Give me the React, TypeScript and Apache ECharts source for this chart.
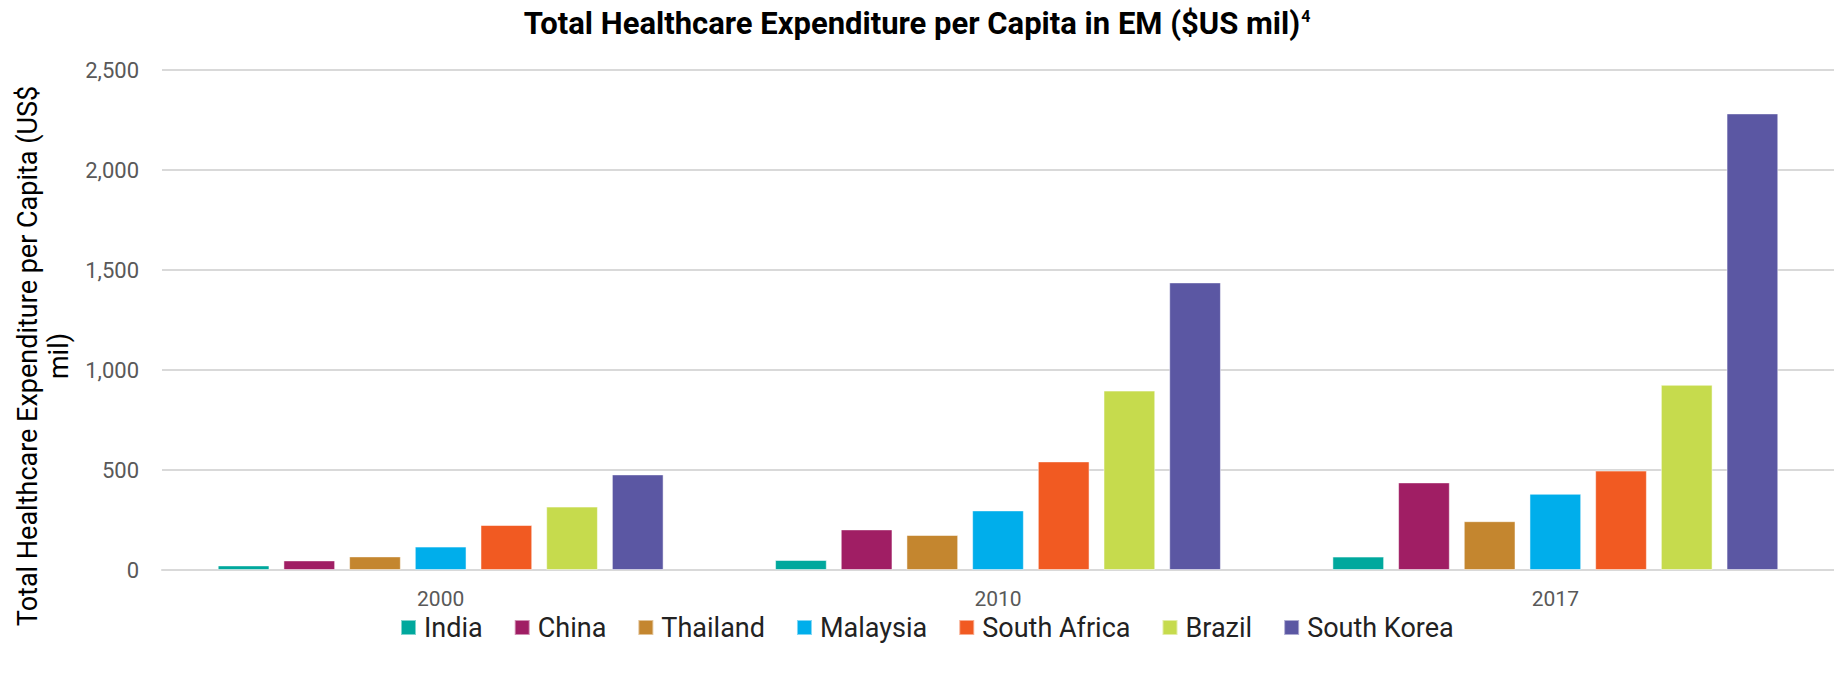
import React, { useEffect, useRef } from "react";
import * as echarts from "echarts";

const categories = ["2000", "2010", "2017"];
const seriesNames = ["India", "China", "Thailand", "Malaysia", "South Africa", "Brazil", "South Korea"];
const india = [23, 50, 67];
const china = [48, 203, 438];
const thailand = [68, 175, 244];
const malaysia = [117, 298, 381];
const southAfrica = [225, 543, 497];
const brazil = [317, 897, 926];
const southKorea = [478, 1438, 2283];
const colors = ["#00A89D", "#A01E64", "#C4862F", "#00AEEB", "#F15A22", "#C6DB4D", "#5B57A3"];
const yTicks = [0, 500, 1000, 1500, 2000, 2500];

const App: React.FC = () => {
  const ref = useRef<HTMLDivElement>(null);
  useEffect(() => {
    document.body.style.margin = "0";
    if (!ref.current) return;
    const chart = echarts.init(ref.current, null, { renderer: "svg" });
    const values = [india, china, thailand, malaysia, southAfrica, brazil, southKorea];
    chart.setOption({
      animation: false,
      color: colors,
      title: {
        text: "{t|Total Healthcare Expenditure per Capita in EM ($US mil)}{s|4}",
        left: "center",
        top: 3,
        textStyle: {
          rich: {
            t: { fontFamily: "Roboto", fontWeight: "bold", fontSize: 31, color: "#000" },
            s: { fontFamily: "Roboto", fontWeight: "bold", fontSize: 16, color: "#000", verticalAlign: "top", padding: [0, 0, 14, 1] },
          },
        },
      },
      legend: {
        data: seriesNames,
        left: 395,
        top: 609,
        itemWidth: 15,
        itemHeight: 15,
        itemGap: 31,
        icon: "rect",
        textStyle: { fontFamily: "Roboto", fontSize: 27, lineHeight: 27, color: "#222", padding: [0, 0, 0, 3] },
      },
      grid: { left: 162, right: -11, top: 70, bottom: 104 },
      xAxis: {
        type: "category",
        data: categories,
        axisTick: { show: false },
        axisLine: { lineStyle: { color: "#d9d9d9", width: 2 } },
        axisLabel: { fontFamily: "Roboto", fontSize: 21, lineHeight: 21, color: "#595959", margin: 18 },
      },
      yAxis: {
        type: "value",
        min: 0,
        max: 2500,
        interval: 500,
        axisLabel: {
          fontFamily: "Roboto",
          fontSize: 22,
          color: "#595959",
          margin: 23,
          formatter: (v: number) => (yTicks.includes(v) ? v.toLocaleString("en-US") : ""),
        },
        splitLine: { lineStyle: { color: "#d9d9d9", width: 2 } },
      },
      graphic: [
        {
          type: "text",
          x: 43,
          y: 356,
          rotation: Math.PI / 2,
          style: {
            text: "Total Healthcare Expenditure per Capita (US$\nmil)",
            fontFamily: "Roboto",
            fontSize: 27,
            lineHeight: 31,
            fill: "#000",
            textAlign: "center",
            textVerticalAlign: "middle",
          },
        },
      ],
      series: seriesNames.map((name, i) => ({
        name,
        type: "bar",
        data: values[i],
        barCategoryGap: "20%",
        barGap: "27%",
        itemStyle: { color: colors[i], borderColor: "rgba(255,255,255,0.5)", borderWidth: 1 },
      })),
    });
    return () => chart.dispose();
  }, []);
  return <div ref={ref} style={{ width: 1834, height: 674 }} />;
};

export default App;
